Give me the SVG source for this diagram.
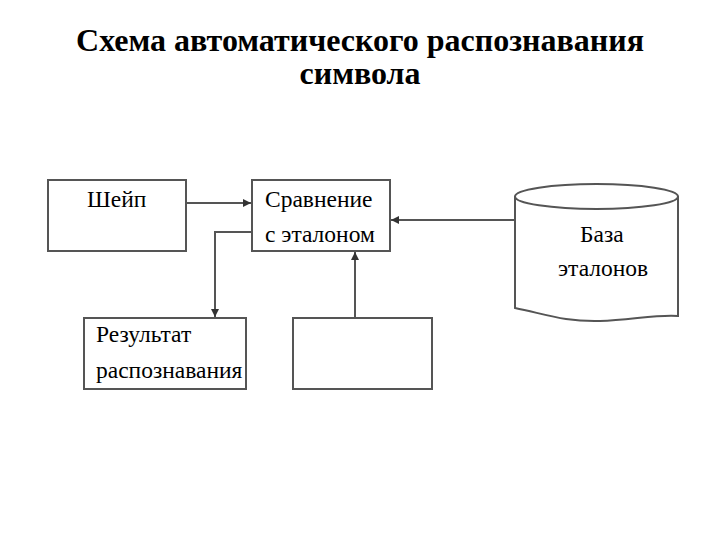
<svg xmlns="http://www.w3.org/2000/svg" width="720" height="540" viewBox="0 0 720 540">
<defs>
<style>
.box{fill:#fff;stroke:#555;stroke-width:2}
.ln{fill:none;stroke:#555;stroke-width:2}
.t{font-family:"Liberation Serif","DejaVu Serif",serif;font-size:23.5px;fill:#000}
.h{font-family:"Liberation Serif","DejaVu Serif",serif;font-size:32px;font-weight:bold;fill:#000;text-anchor:middle}
</style>
<marker id="a" viewBox="0 0 10 10" refX="10" refY="5" markerWidth="4" markerHeight="4" orient="auto"><path d="M0,0L10,5L0,10z" fill="#333"/></marker>
</defs>
<rect width="720" height="540" fill="#fff"/>
<text class="h" x="360" y="51">Схема автоматического распознавания</text>
<text class="h" x="360" y="84">символа</text>
<g id="connectors">
<path class="ln" d="M186,203H251" marker-end="url(#a)"/>
<path class="ln" d="M515,220H391" marker-end="url(#a)"/>
<path class="ln" d="M252,232H215V317" marker-end="url(#a)"/>
<path class="ln" d="M355,318V252" marker-end="url(#a)"/>
</g>
<g id="shape"><rect class="box" x="48" y="180" width="138" height="71"/><text class="t" x="87" y="207">Шейп</text></g>
<g id="compare"><rect class="box" x="252" y="180" width="138" height="71"/><text class="t" x="265" y="207">Сравнение</text><text class="t" x="265" y="242">с эталоном</text></g>
<g id="result"><rect class="box" x="84" y="318" width="162" height="71"/><text class="t" x="96" y="342">Результат</text><text class="t" x="96" y="378">распознавания</text></g>
<g id="empty"><rect class="box" x="293" y="318" width="139" height="71"/></g>
<g id="db">
<path class="box" d="M515,196V308C545,314 565,322 600,321C630,320 660,314 678,316V196"/>
<ellipse class="box" cx="596.5" cy="196.5" rx="81.5" ry="12.5"/>
<text class="t" x="580" y="242">База</text><text class="t" x="558" y="276">эталонов</text>
</g>
</svg>
